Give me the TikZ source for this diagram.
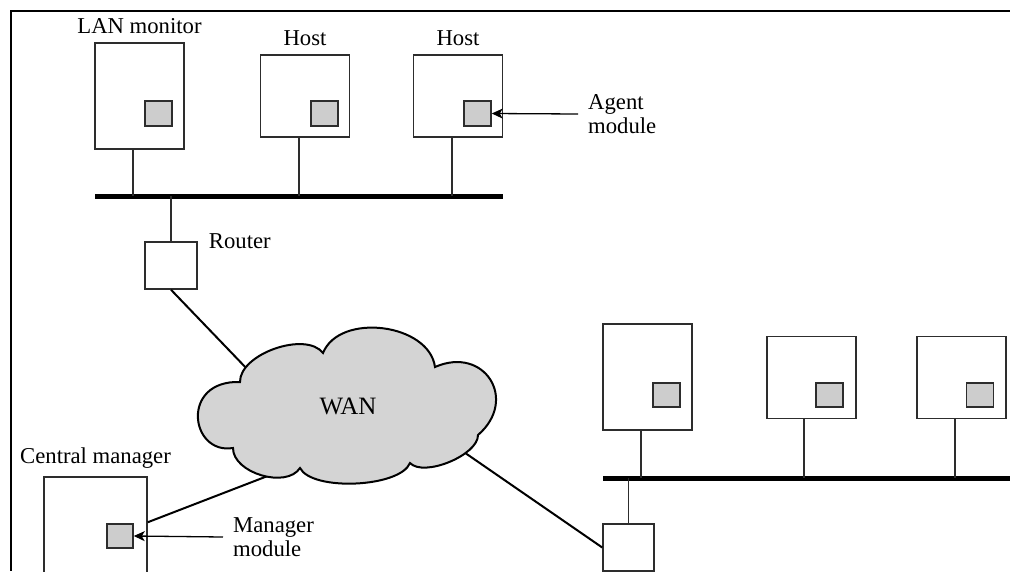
\documentclass[tikz,border=0pt]{standalone}
\usepackage{fontspec}
\setmainfont{Liberation Serif}
\usepackage{tikz}
\usetikzlibrary{arrows.meta,positioning}
\definecolor{modgray}{RGB}{205,205,205}
\definecolor{wangray}{RGB}{212,212,212}
\definecolor{linegray}{RGB}{45,45,45}
\tikzstyle{host} = [rectangle, draw=linegray, line width=1.5pt, minimum width=89pt, minimum height=82pt, inner sep=0pt]
\tikzstyle{module} = [rectangle, draw=linegray, line width=1.5pt, fill=modgray, minimum width=27pt, minimum height=25pt, inner sep=0pt]
\tikzstyle{router} = [rectangle, draw=linegray, line width=1.5pt, minimum width=52pt, minimum height=47pt, inner sep=0pt]
\tikzstyle{bus} = [line width=5pt]
\tikzstyle{drop} = [line width=1.5pt, draw=linegray]
\tikzstyle{link} = [line width=2pt]
\tikzstyle{arrow} = [line width=1.3pt, -{Stealth[length=11pt,width=10pt,inset=3pt]}]
\tikzstyle{lbl} = [font=\fontsize{22.7}{23.5}\selectfont, inner sep=0pt]

\begin{document}
\begin{tikzpicture}[x=1pt,y=-1pt]
\clip (0,0) rectangle (1010,571);
% frame
\draw[line width=2pt] (1010,11) -- (11,11) -- (11,571);

% Upper LAN
\node (lanmon) [host, minimum height=106pt] at (139.5,96) {};
\node (host1) [host] at (305,96) {};
\node (host2) [host] at (458,96) {};
\node (lanmonmod) [module] at (158.5,113.5) {};
\node (host1mod) [module] at (324.5,113.5) {};
\node (host2mod) [module] at (477.5,113.5) {};
\node (lanmonlbl) [lbl, above=8pt of lanmon] {LAN monitor};
\node (host1lbl) [lbl, above=8pt of host1] {Host};
\node (host2lbl) [lbl, above=8pt of host2] {Host};
\coordinate (bus1w) at (95,196);
\coordinate (bus1e) at (503,196);
\draw[bus] (bus1w) -- (bus1e);
\draw[drop] ([xshift=-6.5pt]lanmon.south) -- ([xshift=-6.5pt]lanmon.south |- bus1w);
\draw[drop] ([xshift=-6pt]host1.south) -- ([xshift=-6pt]host1.south |- bus1w);
\draw[drop] ([xshift=-6pt]host2.south) -- ([xshift=-6pt]host2.south |- bus1w);

% Agent label
\node (agentlbl) [lbl, align=left, anchor=west, inner xsep=10pt] at (578,114) {Agent\\module};
\draw[arrow] (agentlbl.west) -- (host2mod.east);

% Router
\node (router1) [router] at (171,265.5) {};
\node (router1lbl) [lbl, right=11pt of router1.north east] {Router};
\draw[drop] (router1.north) -- (router1.north |- bus1w);

% Central manager
\node (cmgr) [host, minimum width=103pt, minimum height=116pt] at (95.5,535) {};
\node (cmgrmod) [module, minimum width=26pt, minimum height=24pt] at (120,536) {};
\node (cmgrlbl) [lbl, above=8pt of cmgr] {Central manager};
\node (mgrlbl) [lbl, align=left, anchor=west, inner xsep=10pt] at (223,537) {Manager\\module};
\draw[arrow] (mgrlbl.west) -- (cmgrmod.east);

% Lower LAN
\node (hostA) [host, minimum height=106pt] at (647.5,377) {};
\node (hostB) [host] at (811.5,377.5) {};
\node (hostC) [host] at (961.5,377.5) {};
\node (hostAmod) [module, minimum height=24pt] at (666.5,395) {};
\node (hostBmod) [module, minimum height=24pt] at (829.5,395) {};
\node (hostCmod) [module, minimum height=24pt] at (980,395) {};
\coordinate (bus2w) at (603,478);
\coordinate (bus2e) at (1015,478);
\draw[bus] (bus2w) -- (bus2e);
\draw[drop] ([xshift=-6.5pt]hostA.south) -- ([xshift=-6.5pt]hostA.south |- bus2w);
\draw[drop] ([xshift=-7.5pt]hostB.south) -- ([xshift=-7.5pt]hostB.south |- bus2w);
\draw[drop] ([xshift=-6.5pt]hostC.south) -- ([xshift=-6.5pt]hostC.south |- bus2w);
\node (router2) [router, minimum width=51pt] at (628.5,547.5) {};
\draw[drop] (router2.north) -- (router2.north |- bus2w);

% WAN links (ends hidden under the cloud)
\coordinate (wanrt) at (250,372);
\coordinate (wanmg) at (278,472);
\coordinate (wanr2) at (458,448);
\draw[link] (router1.south) -- (wanrt);
\draw[link] ([yshift=-46pt]cmgr.north east) -- (wanmg);
\draw[link] (wanr2) -- (router2.west);

% WAN cloud
\draw[line width=2pt, fill=wangray] (240,382)
  .. controls (239.5,353.9) and (305.9,330.7) .. (323,353)
  .. controls (339.5,312.1) and (429.1,323.3) .. (435,367)
  .. controls (484.4,345.3) and (518.8,399.7) .. (478,435)
  .. controls (478.3,455.1) and (423.9,477.5) .. (410,463)
  .. controls (400.1,487.5) and (312.1,491.5) .. (300,468)
  .. controls (286.4,489) and (232.8,473) .. (233,448)
  .. controls (190,455) and (180,380) .. cycle;
\node (wan) [font=\fontsize{25}{28}\selectfont] at (348,406) {WAN};
\end{tikzpicture}
\end{document}
